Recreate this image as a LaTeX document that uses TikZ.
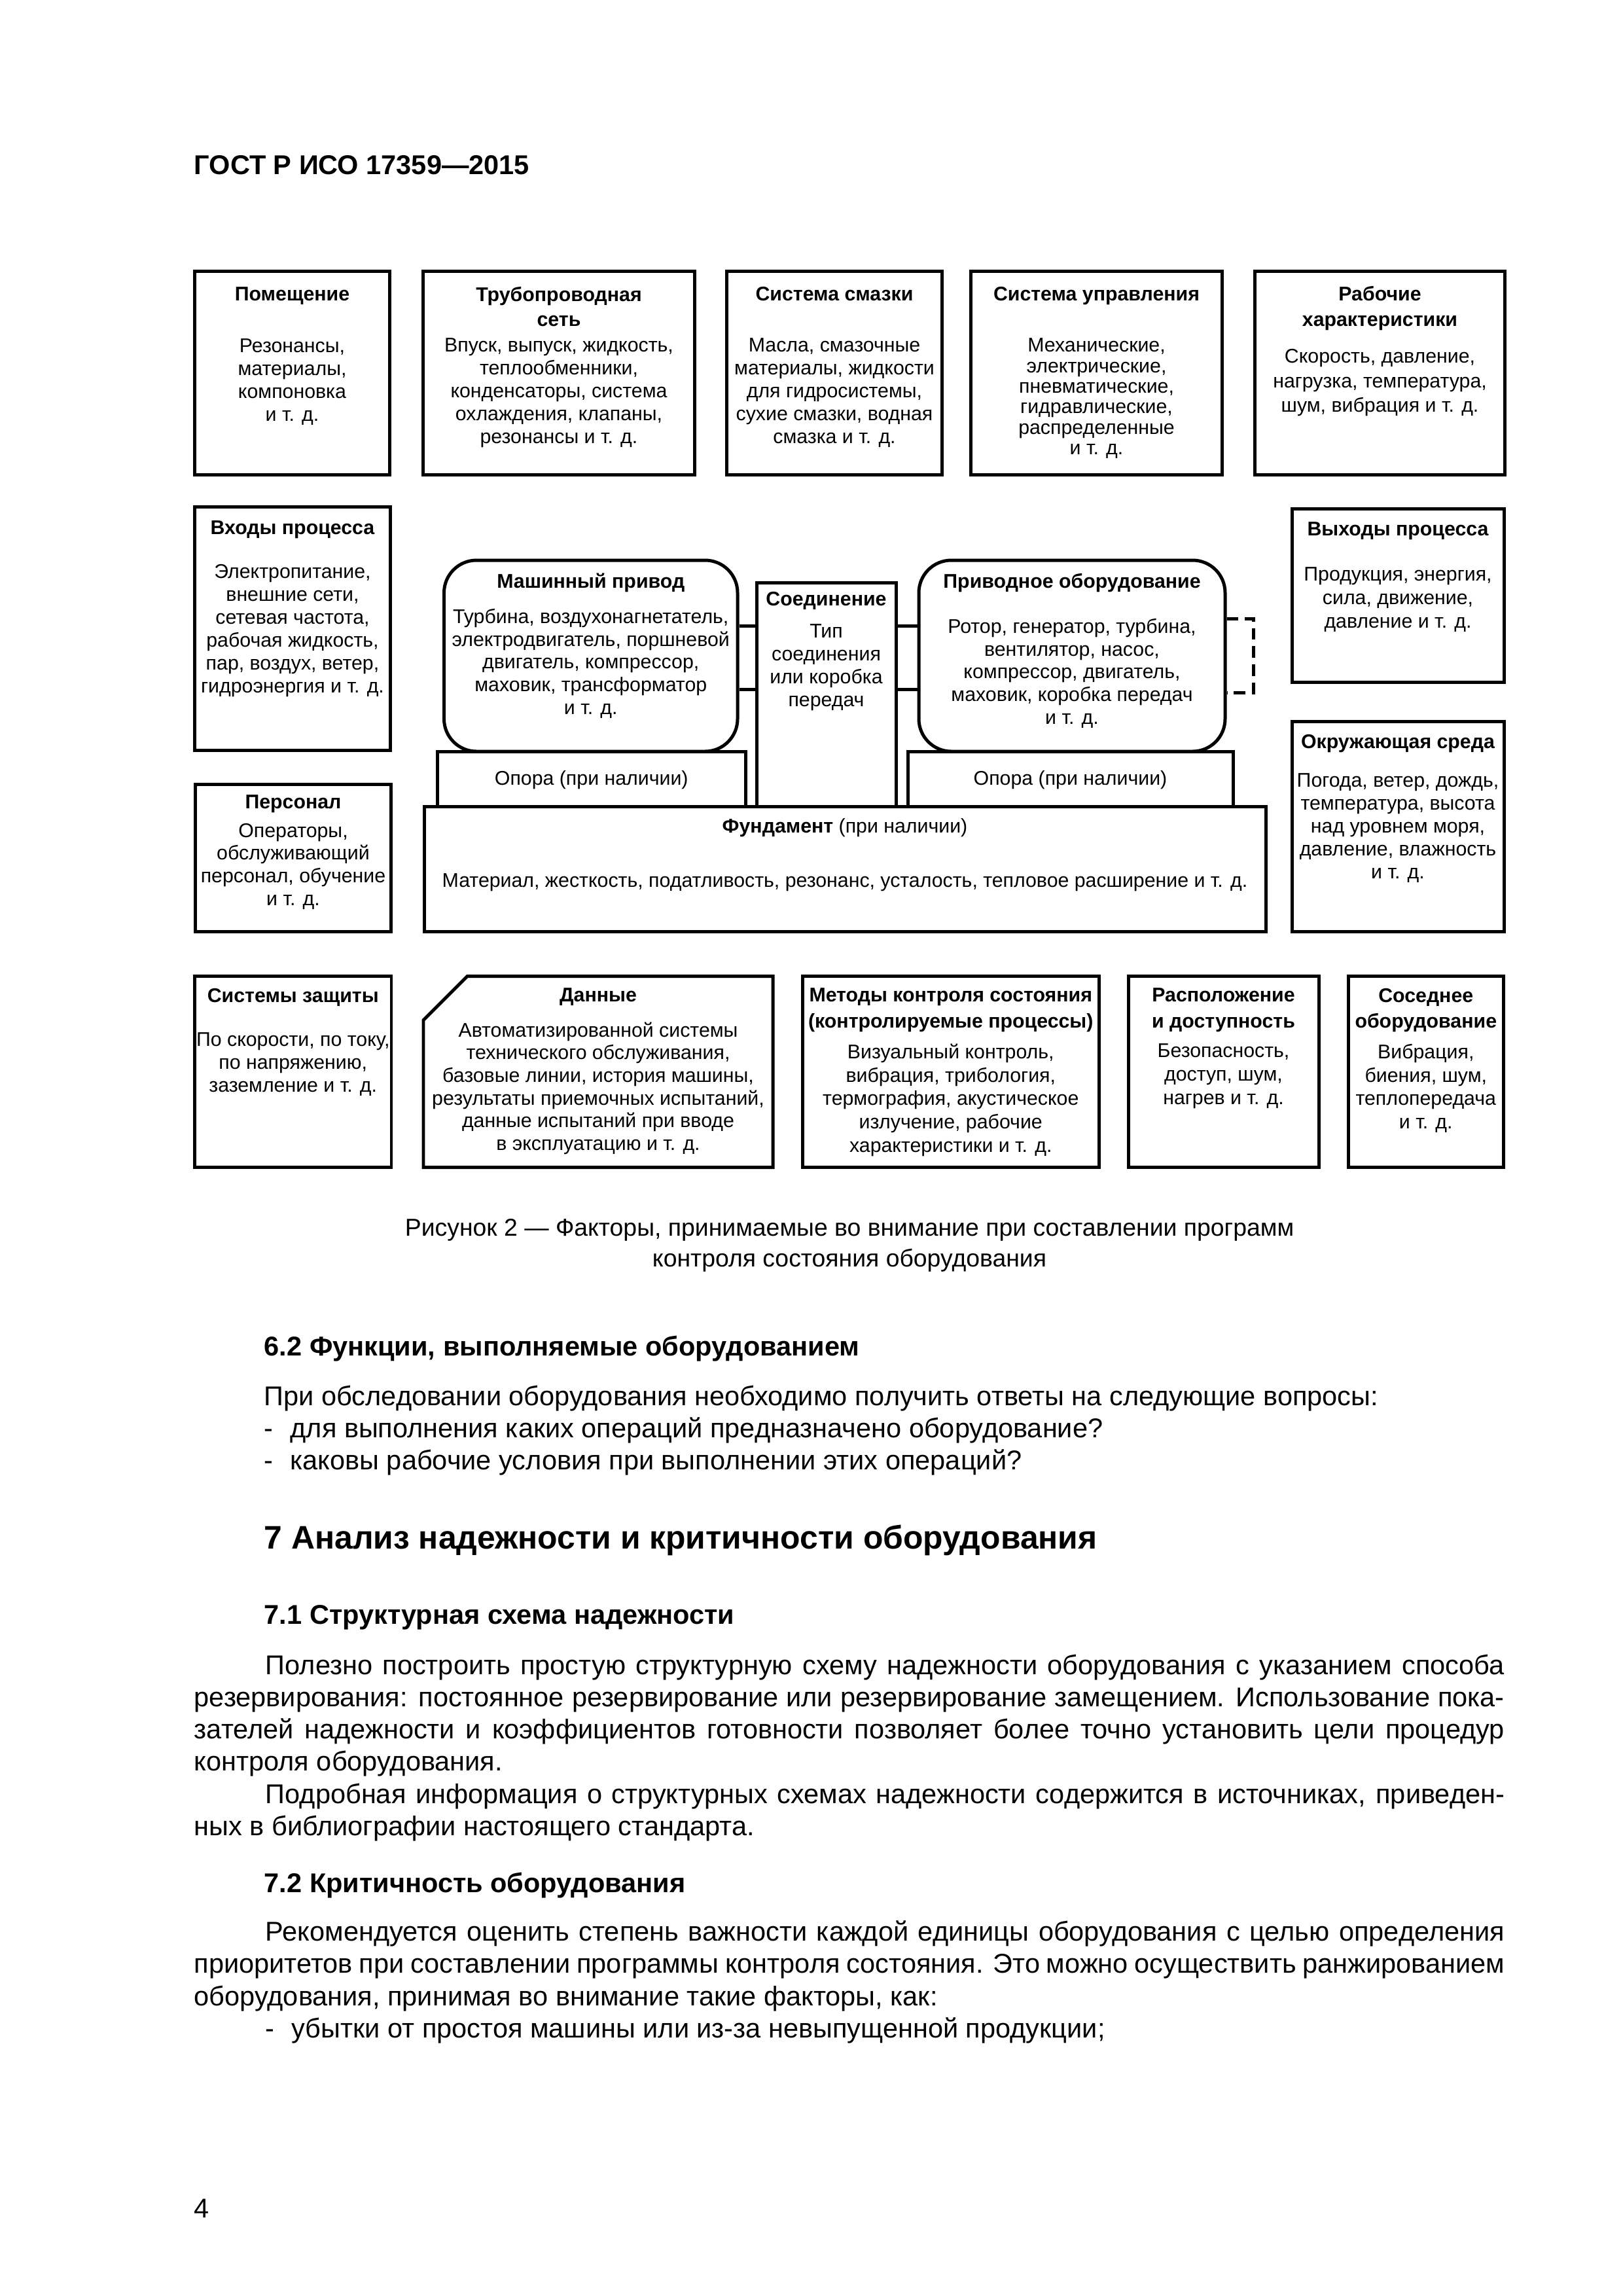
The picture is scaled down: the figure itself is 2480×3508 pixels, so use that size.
\documentclass[tikz,border=0pt]{standalone}
\usepackage{fontspec}
\setmainfont{Liberation Sans}
\usetikzlibrary{fit}
\newlength\twid \setlength\twid{169.52mm}
\newlength\pind \setlength\pind{9.23mm}
\begin{document}
\begin{tikzpicture}[x=0.0846774mm, y=-0.0846774mm,
  box/.style={draw, line width=1.2pt, inner sep=0pt},
  rbox/.style={box, rounded corners=4.2mm},
  conn/.style={line width=1.2pt},
  dconn/.style={line width=1.2pt, dash pattern=on 4.3pt off 2.4pt},
  hd/.style={font=\bfseries\fontsize{7.3}{#1}\selectfont, align=center, inner sep=0pt, anchor=north},
  hd/.default=9.4pt,
  bd/.style={font=\fontsize{7.3}{#1}\selectfont, align=center, inner sep=0pt, anchor=north},
  bd/.default=8.42pt,
  txt/.style={font=\fontsize{10}{11.85}\selectfont, align=left, inner sep=0pt, anchor=north west},
  ttl/.style={font=\bfseries\fontsize{10}{12}\selectfont, inner sep=0pt, anchor=north west},
]
\useasboundingbox (0,0) rectangle (2480,3508);
\fill[white] (0,0) rectangle (2480,3508);

% header
\node[anchor=base west, inner sep=0pt, font=\bfseries\fontsize{10}{12}\selectfont] (hdr) at (296,266.7) {ГОСТ Р ИСО 17359—2015};

% ---------- top row ----------
\node[box, fit={(297.5,414.5) (595.5,725.5)}] (pom) {};
\node[box, fit={(646.5,414.5) (1061.5,725.5)}] (tru) {};
\node[box, fit={(1110.5,414.5) (1439.5,725.5)}] (sma) {};
\node[box, fit={(1483.5,414.5) (1867.5,725.5)}] (upr) {};
\node[box, fit={(1917.5,414.5) (2299.5,725.5)}] (rab) {};

\node[hd] (pomH) at (446.5,438) {Помещение};
\node[bd] (pomB) at (446.5,517) {Резонансы,\\материалы,\\компоновка\\и т. д.};
\node[hd=9.15pt] (truH) at (854,437) {Трубопроводная\\сеть};
\node[bd] (truB) at (854,516) {Впуск, выпуск, жидкость,\\теплообменники,\\конденсаторы, система\\охлаждения, клапаны,\\резонансы и т. д.};
\node[hd] (smaH) at (1275,438) {Система смазки};
\node[bd] (smaB) at (1275,516) {Масла, смазочные\\материалы, жидкости\\для гидросистемы,\\сухие смазки, водная\\смазка и т. д.};
\node[hd] (uprH) at (1675.5,438) {Система управления};
\node[bd=7.55pt] (uprB) at (1675.5,516) {Механические,\\электрические,\\пневматические,\\гидравлические,\\распределенные\\и т. д.};
\node[hd=9.6pt] (rabH) at (2108.5,436) {Рабочие\\характеристики};
\node[bd=9.03pt] (rabB) at (2108.5,533) {Скорость, давление,\\нагрузка, температура,\\шум, вибрация и т. д.};

% ---------- middle ----------
\node[box, fit={(297.5,774.5) (596.5,1146.5)}] (vho) {};
\node[box, fit={(298.5,1198.5) (597.5,1423.5)}] (per) {};
\node[rbox, fit={(678.5,856) (1127,1148)}] (mash) {};
\node[box, fit={(1156,890) (1369,1232)}] (soed) {};
\node[rbox, fit={(1404,856) (1872,1148)}] (priv) {};
\node[box, fit={(668.5,1148) (1139,1232)}] (op1) {};
\node[box, fit={(1387,1148) (1884,1232)}] (op2) {};
\node[box, fit={(648.5,1232.5) (1934,1423)}] (fund) {};
\node[box, fit={(1974,777) (2298,1042)}] (vyh) {};
\node[box, fit={(1974,1102.5) (2298,1423)}] (okr) {};

\node[hd] (vhoH) at (447,795) {Входы процесса};
\node[bd] (vhoB) at (447,862) {Электропитание,\\внешние сети,\\сетевая частота,\\рабочая жидкость,\\пар, воздух, ветер,\\гидроэнергия и т. д.};
\node[hd] (perH) at (448,1214) {Персонал};
\node[bd] (perB) at (448,1257) {Операторы,\\обслуживающий\\персонал, обучение\\и т. д.};
\node[hd] (mashH) at (902.75,875) {Машинный привод};
\node[bd] (mashB) at (902.75,929) {Турбина, воздухонагнетатель,\\электродвигатель, поршневой\\двигатель, компрессор,\\маховик, трансформатор\\и т. д.};
\node[hd] (soedH) at (1262.5,904) {Соединение};
\node[bd] (soedB) at (1262.5,953) {Тип\\соединения\\или коробка\\передач};
\node[hd] (privH) at (1638,875) {Приводное оборудование};
\node[bd] (privB) at (1638,944) {Ротор, генератор, турбина,\\вентилятор, насос,\\компрессор, двигатель,\\маховик, коробка передач\\и т. д.};
\node[bd] (op1T) at (903.75,1177) {Опора (при наличии)};
\node[bd] (op2T) at (1635.5,1177) {Опора (при наличии)};
\node[bd] (fundH) at (1291,1250) {\textbf{Фундамент} (при наличии)};
\node[bd] (fundB) at (1291,1334) {Материал, жесткость, податливость, резонанс, усталость, тепловое расширение и т. д.};
\node[hd] (vyhH) at (2136,797) {Выходы процесса};
\node[bd=8.6pt] (vyhB) at (2136,866) {Продукция, энергия,\\сила, движение,\\давление и т. д.};
\node[hd] (okrH) at (2136,1121) {Окружающая среда};
\node[bd] (okrB) at (2136,1181) {Погода, ветер, дождь,\\температура, высота\\над уровнем моря,\\давление, влажность\\и т. д.};

% connectors
\coordinate (cA) at (0,956);
\coordinate (cB) at (0,1053.6);
\coordinate (cC) at (0,945);
\coordinate (cD) at (0,1058);
\draw[conn] (mash.east |- cA) -- (soed.west |- cA);
\draw[conn] (mash.east |- cB) -- (soed.west |- cB);
\draw[conn] (soed.east |- cA) -- (priv.west |- cA);
\draw[conn] (soed.east |- cB) -- (priv.west |- cB);
\draw[dconn] (priv.east |- cC) -- ++(41,0) |- (priv.east |- cD);

% ---------- bottom row ----------
\node[box, fit={(297.5,1491.5) (598,1783.5)}] (zas) {};
\draw[box] (714,1491.5) -- (1181,1491.5) -- (1181,1783.5) -- (647,1783.5) -- (647,1558.5) -- cycle;
\node[box, fit={(1226,1491.5) (1679.5,1783.5)}] (met) {};
\node[box, fit={(1724,1491.5) (2015,1783.5)}] (ras) {};
\node[box, fit={(2060,1491.5) (2297.5,1783.5)}] (sos) {};

\node[hd] (zasH) at (447.75,1509) {Системы защиты};
\node[bd] (zasB) at (447.75,1577) {По скорости, по току,\\по напряжению,\\заземление и т. д.};
\node[hd] (danH) at (914,1509) {Данные};
\node[bd=8.33pt] (danB) at (914,1561) {Автоматизированной системы\\технического обслуживания,\\базовые линии, история машины,\\результаты приемочных испытаний,\\данные испытаний при вводе\\в эксплуатацию и т. д.};
\node[hd=9.6pt] (metH) at (1452.75,1509) {Методы контроля состояния\\(контролируемые процессы)};
\node[bd=8.6pt] (metB) at (1452.75,1594) {Визуальный контроль,\\вибрация, трибология,\\термография, акустическое\\излучение, рабочие\\характеристики и т. д.};
\node[hd=9.6pt] (rasH) at (1869.5,1509) {Расположение\\и доступность};
\node[bd=8.66pt] (rasB) at (1869.5,1594) {Безопасность,\\доступ, шум,\\нагрев и т. д.};
\node[hd=9.6pt] (sosH) at (2178.75,1509) {Соседнее\\оборудование};
\node[bd=8.66pt] (sosB) at (2178.75,1594) {Вибрация,\\биения, шум,\\теплопередача\\и т. д.};

% caption
\node[font=\fontsize{9}{11.3}\selectfont, align=center, anchor=north, inner sep=0pt] (cap) at (1298,1862) {Рисунок 2 — Факторы, принимаемые во внимание при составлении программ\\контроля состояния оборудования};

% ---------- text ----------
\node[ttl] (h62) at (403,2040) {6.2 Функции, выполняемые оборудованием};
\node[txt] (p62) at (403,2116) {При обследовании оборудования необходимо получить ответы на следующие вопросы:\\-\hspace{2.2mm}для выполнения каких операций предназначено оборудование?\\-\hspace{2.2mm}каковы рабочие условия при выполнении этих операций?};
\node[ttl, font=\bfseries\fontsize{12}{14}\selectfont] (h7) at (403,2329) {7 Анализ надежности и критичности оборудования};
\node[ttl] (h71) at (403,2452) {7.1 Структурная схема надежности};
\node[txt] (p71) at (296,2527) {\makebox[\twid][s]{\hspace*{\pind}Полезно построить простую структурную схему надежности оборудования с указанием способа}\\
\makebox[\twid][s]{резервирования: постоянное резервирование или резервирование замещением. Использование пока-}\\
\makebox[\twid][s]{зателей надежности и коэффициентов готовности позволяет более точно установить цели процедур}\\
контроля оборудования.\\
\makebox[\twid][s]{\hspace*{\pind}Подробная информация о структурных схемах надежности содержится в источниках, приведен-}\\
ных в библиографии настоящего стандарта.};
\node[ttl] (h72) at (403,2860) {7.2 Критичность оборудования};
\node[txt] (p72) at (296,2934) {\makebox[\twid][s]{\hspace*{\pind}Рекомендуется оценить степень важности каждой единицы оборудования с целью определения}\\
\makebox[\twid][s]{приоритетов при составлении программы контроля состояния. Это можно осуществить ранжированием}\\
оборудования, принимая во внимание такие факторы, как:\\
\hspace*{\pind}-\hspace{2.2mm}убытки от простоя машины или из-за невыпущенной продукции;};
\node[txt] (pg) at (296,3359) {4};
\end{tikzpicture}
\end{document}
